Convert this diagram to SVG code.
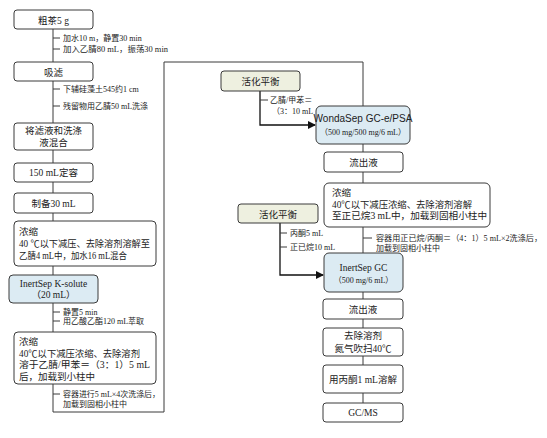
<svg xmlns="http://www.w3.org/2000/svg" width="547" height="438" viewBox="0 0 547 438">
<defs>
<style>
.box{fill:#fff;stroke:#3a3a3a;stroke-width:1}
.blue{fill:#dcebf3;stroke:#3a3a3a;stroke-width:1}
.green{fill:#eef0e0;stroke:#3a3a3a;stroke-width:1}
.t{font-family:"Liberation Serif","Noto Sans CJK SC",serif;font-size:9.5px;fill:#222}
.c{text-anchor:middle}
.s{font-family:"Liberation Serif","Noto Sans CJK SC",serif;font-size:8px;fill:#222}
.sans{font-family:"Liberation Sans","Noto Sans CJK SC",sans-serif;font-size:10px;fill:#222}
.ln{fill:none;stroke:#3a3a3a;stroke-width:1}
.thk{fill:none;stroke:#111;stroke-width:1.3}
</style>
<marker id="ah" markerWidth="8" markerHeight="8" refX="7" refY="4" orient="auto" markerUnits="userSpaceOnUse">
<path d="M0,0 L8,4 L0,8 Z" fill="#111"/>
</marker>
</defs>
<rect width="547" height="438" fill="#fff"/>
<g id="connectors">
<path class="ln" d="M53,29 V62 M53,81 V123 M53,150 V163 M53,182 V193 M53,213 V221 M53,266 V275 M53,303 V332 M53,384 V412 H164 V62 H363 V106"/>
<path class="ln" d="M53,38 H60 M53,49 H60 M53,89 H60 M53,106 H60 M53,312 H60 M53,321 H60 M53,394 H60"/>
<path class="ln" d="M363,144 V152 M363,172 V183 M363,227 V253 M363,292 V299 M363,319 V328 M363,356 V365 M363,393 V403 M363,238 H372"/>
<path class="thk" d="M260,91 V125 H315" marker-end="url(#ah)"/>
<path class="ln" d="M260,100 H268"/>
<path class="thk" d="M280,223 V275 H323" marker-end="url(#ah)"/>
<path class="ln" d="M280,233 H287 M280,247 H287"/>
</g>
<g id="ann">
<text class="s" x="63" y="41">加水10 m，静置30 min</text>
<text class="s" x="63" y="52" textLength="105" lengthAdjust="spacingAndGlyphs">加入乙腈80 mL，振荡30 min</text>
<text class="s" x="63" y="92">下辅硅藻土545约1 cm</text>
<text class="s" x="63" y="109">残留物用乙腈50 mL洗涤</text>
<text class="s" x="63" y="315">静置5 min</text>
<text class="s" x="63" y="324">用乙酸乙酯120 mL萃取</text>
<text class="s" x="63" y="397" textLength="97" lengthAdjust="spacingAndGlyphs">容器进行5 mL×4次洗涤后，</text>
<text class="s" x="63" y="407">加载到固相小柱中</text>
<text class="s" x="270" y="103">乙腈/甲苯＝</text>
<text class="s" x="272" y="114">（3：10 mL</text>
<text class="s" x="290" y="236">丙酮5 mL</text>
<text class="s" x="290" y="250">正已烷10 mL</text>
<text class="s" x="376" y="241" textLength="166" lengthAdjust="spacingAndGlyphs">容器用正已烷/丙酮＝（4：1）5 mL×2洗涤后，</text>
<text class="s" x="376" y="251">加载到固相小柱中</text>
</g>
<g id="n1"><rect class="box" x="14" y="10" width="79" height="19" rx="3"/><text class="t c" x="53.5" y="23.5">粗茶5 g</text></g>
<g id="n2"><rect class="box" x="14" y="62" width="79" height="19" rx="3"/><text class="t c" x="53.5" y="75.5">吸滤</text></g>
<g id="n3"><rect class="box" x="14" y="123" width="79" height="27" rx="3"/><text class="t c" x="53.5" y="134">将滤液和洗涤</text><text class="t c" x="53.5" y="146">液混合</text></g>
<g id="n4"><rect class="box" x="14" y="163" width="79" height="19" rx="3"/><text class="t c" x="53.5" y="176">150 mL定容</text></g>
<g id="n5"><rect class="box" x="14" y="193" width="79" height="20" rx="3"/><text class="t c" x="53.5" y="207">制备30 mL</text></g>
<g id="n6"><rect class="box" x="14" y="221" width="142" height="45" rx="4"/>
<text class="t" x="19" y="235">浓缩</text><text class="t" x="19" y="247" textLength="131" lengthAdjust="spacingAndGlyphs">40 ℃以下减压、去除溶剂溶解至</text><text class="t" x="19" y="259" textLength="108" lengthAdjust="spacingAndGlyphs">乙腈4 mL中，加水16 mL混合</text></g>
<g id="n7"><rect class="blue" x="9" y="275" width="89" height="28" rx="4"/><text class="t c" x="53.5" y="287">InertSep K-solute</text><text class="t c" x="53.5" y="298">（20 mL）</text></g>
<g id="n8"><rect class="box" x="14" y="332" width="142" height="52" rx="4"/>
<text class="t" x="19" y="345">浓缩</text><text class="t" x="19" y="357" textLength="121" lengthAdjust="spacingAndGlyphs">40℃以下减压浓缩、去除溶剂</text><text class="t" x="19" y="368" textLength="131" lengthAdjust="spacingAndGlyphs">溶于乙腈/甲苯＝（3：1）5 mL</text><text class="t" x="19" y="380">后，加载到小柱中</text></g>
<g id="n9"><rect class="green" x="221" y="71" width="79" height="20" rx="3"/><text class="t c" x="260.5" y="85">活化平衡</text></g>
<g id="n10"><rect class="blue" x="316" y="106" width="94" height="38" rx="5"/><text class="sans c" x="363" y="122">WondaSep GC-e/PSA</text><text class="s c" x="363" y="135">（500 mg/500 mg/6 mL）</text></g>
<g id="n11"><rect class="box" x="324" y="152" width="79" height="20" rx="3"/><text class="t c" x="363.5" y="166">流出液</text></g>
<g id="n12"><rect class="box" x="324" y="183" width="166" height="44" rx="5"/>
<text class="t" x="332" y="196">浓缩</text><text class="t" x="332" y="208" textLength="140" lengthAdjust="spacingAndGlyphs">40℃以下减压浓缩、去除溶剂溶解</text><text class="t" x="332" y="219" textLength="155" lengthAdjust="spacingAndGlyphs">至正已烷3 mL中，加载到固相小柱中</text></g>
<g id="n13"><rect class="green" x="238" y="204" width="80" height="19" rx="3"/><text class="t c" x="278" y="217.5">活化平衡</text></g>
<g id="n14"><rect class="blue" x="324" y="253" width="79" height="39" rx="5"/><text class="t c" x="363.5" y="271">InertSep GC</text><text class="s c" x="363.5" y="283">（500 mg/6 mL）</text></g>
<g id="n15"><rect class="box" x="323" y="299" width="80" height="20" rx="3"/><text class="t c" x="363" y="313">流出液</text></g>
<g id="n16"><rect class="box" x="323" y="328" width="80" height="28" rx="3"/><text class="t c" x="363" y="339">去除溶剂</text><text class="t c" x="363" y="352">氮气吹扫40℃</text></g>
<g id="n17"><rect class="box" x="323" y="365" width="80" height="28" rx="3"/><text class="t c" x="363" y="383">用丙酮1 mL溶解</text></g>
<g id="n18"><rect class="box" x="323" y="403" width="80" height="19" rx="3"/><text class="t c" x="363" y="416">GC/MS</text></g>
</svg>
